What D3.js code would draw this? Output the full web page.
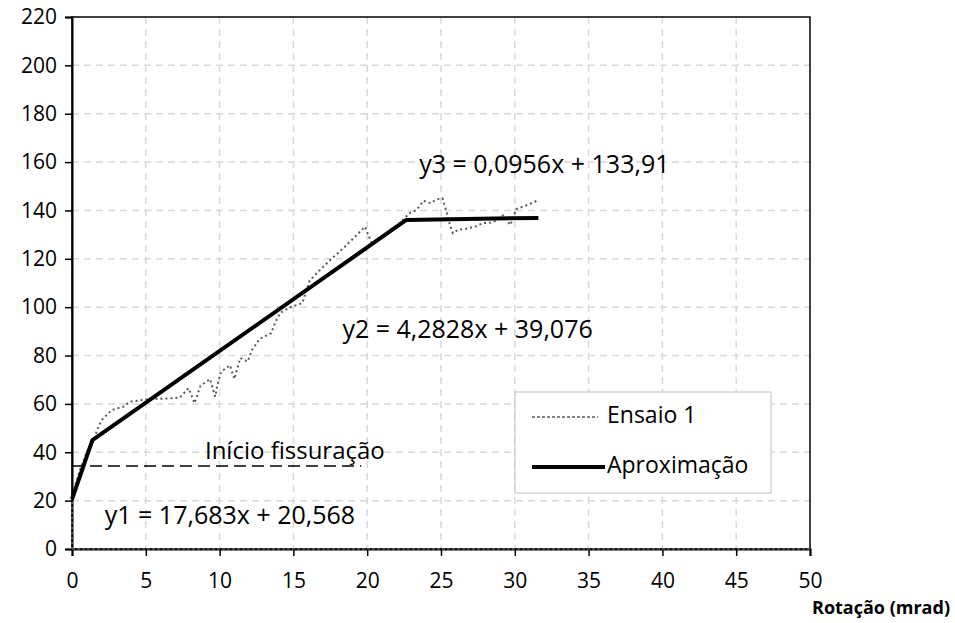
<!DOCTYPE html>
<html>
<head>
<meta charset="utf-8">
<script src="https://cdn.jsdelivr.net/npm/d3@7"></script>
<style>
  body { margin: 0; background: #fff; }
  text { font-family: "Open Sans", sans-serif; fill: #000; }
</style>
</head>
<body>
<svg width="955" height="623"></svg>
<script>
// Ensaio 1 (rotation mrad, load)
var ensaioX = [0, 0, 0.1, 0.5, 1.0, 1.5, 1.67, 2.0, 2.7, 3.46, 3.93, 5.06, 6.64, 7.3, 7.9, 8.3, 8.7, 9.35, 9.7, 9.9, 10.1, 10.7, 11.0, 11.4, 11.9, 12.2, 12.7, 13.5, 13.75, 14.1, 14.8, 15.6, 16.1, 16.8, 17.5, 18.4, 19.3, 19.85, 20.3, 21.3, 22.2, 22.9, 23.35, 23.8, 24.3, 24.7, 25.1, 25.4, 25.6, 25.8, 26.15, 26.6, 27.3, 27.85, 28.5, 29.2, 29.7, 30.1, 30.7, 31.2, 31.5];
var ensaioY = [0, 18, 24, 32, 40, 45, 48.8, 53.3, 57.5, 58.8, 60.9, 61.9, 62.3, 62.6, 66.5, 60.3, 67.4, 70.3, 63, 69.2, 73.3, 76, 70.3, 79, 77.5, 82.3, 86.8, 89.3, 93.5, 97.6, 100, 101.7, 111, 115.4, 119.5, 124.5, 129.9, 133.3, 126.5, 130.7, 134.8, 139, 140.2, 144, 143, 144.6, 145, 139, 134, 130.6, 132, 132.3, 133.3, 134.8, 135, 138, 134, 140.6, 141.9, 143.2, 144];

// Aproximação (trilinear)
var aproxX = [0, 1.381, 22.65, 31.6];
var aproxY = [20.568, 44.99, 136.07, 136.93];

var fissX = [0, 19.6];
var fissY = [34.3, 34.3];

var xTicks = [0, 5, 10, 15, 20, 25, 30, 35, 40, 45, 50];
var yTicks = [0, 20, 40, 60, 80, 100, 120, 140, 160, 180, 200, 220];

var labels = [
  {text: "y3 = 0,0956x + 133,91", x: 32.0, y: 158.4, size: 25},
  {text: "y2 = 4,2828x + 39,076", x: 26.8, y: 90.2, size: 25},
  {text: "y1 = 17,683x + 20,568", x: 10.7, y: 13.2, size: 25},
  {text: "Início fissuração", x: 15.1, y: 39.7, size: 24}
];

var svg = d3.select("svg");
var pL = 72, pR = 810, pT = 17, pB = 549;

var x = d3.scaleLinear().domain([0, 50]).range([pL, pR]);
var y = d3.scaleLinear().domain([0, 220]).range([pB, pT]);

// grid
svg.append("g").selectAll("line").data(yTicks.slice(1, -1)).enter().append("line")
    .attr("x1", pL).attr("x2", pR)
    .attr("y1", function(d) { return y(d); }).attr("y2", function(d) { return y(d); })
    .attr("stroke", "#d9d9d9").attr("stroke-width", 1.5).attr("stroke-dasharray", "7,5");
svg.append("g").selectAll("line").data(xTicks.slice(1, -1)).enter().append("line")
    .attr("y1", pT).attr("y2", pB)
    .attr("x1", function(d) { return x(d); }).attr("x2", function(d) { return x(d); })
    .attr("stroke", "#d9d9d9").attr("stroke-width", 1.5).attr("stroke-dasharray", "7,5");

// frame
svg.append("rect").attr("x", pL).attr("y", pT)
    .attr("width", pR - pL).attr("height", pB - pT)
    .attr("fill", "none").attr("stroke", "#000").attr("stroke-width", 1.5);

// axes
var yAxis = svg.append("g").attr("transform", "translate(" + pL + ",0)")
    .call(d3.axisLeft(y).tickValues(yTicks).tickSize(7).tickPadding(8));
var xAxis = svg.append("g").attr("transform", "translate(0," + pB + ")")
    .call(d3.axisBottom(x).tickValues(xTicks).tickSize(7).tickPadding(17));
[xAxis, yAxis].forEach(function(a) {
  a.select(".domain").attr("stroke", "#000").attr("stroke-width", 2);
  a.selectAll(".tick line").attr("stroke", "#000").attr("stroke-width", 1.5);
  a.selectAll(".tick text").style("font-family", "Open Sans").style("font-size", "21px");
});

// zero line of the test series
svg.append("line").attr("x1", x(0)).attr("x2", x(50)).attr("y1", y(0)).attr("y2", y(0))
    .attr("stroke", "#595959").attr("stroke-width", 1.5).attr("stroke-dasharray", "3,2");

var line = d3.line().x(function(d) { return x(d[0]); }).y(function(d) { return y(d[1]); });

svg.append("path").datum(d3.zip(ensaioX, ensaioY))
    .attr("d", line).attr("fill", "none")
    .attr("stroke", "#595959").attr("stroke-width", 2).attr("stroke-dasharray", "2,3");

svg.append("path").datum(d3.zip(fissX, fissY))
    .attr("d", line).attr("fill", "none")
    .attr("stroke", "#000").attr("stroke-width", 1.5).attr("stroke-dasharray", "12,6");

svg.append("path").datum(d3.zip(aproxX, aproxY))
    .attr("d", line).attr("fill", "none")
    .attr("stroke", "#000").attr("stroke-width", 4).attr("stroke-linejoin", "round");

svg.append("g").selectAll("text").data(labels).enter().append("text")
    .attr("x", function(d) { return x(d.x); })
    .attr("y", function(d) { return y(d.y); })
    .attr("text-anchor", "middle").attr("dominant-baseline", "middle")
    .style("font-size", function(d) { return d.size + "px"; })
    .text(function(d) { return d.text; });

// legend
var lg = svg.append("g");
lg.append("rect").attr("x", 515).attr("y", 392).attr("width", 256).attr("height", 101)
    .attr("fill", "#fff").attr("stroke", "#bfbfbf").attr("stroke-width", 1);
lg.append("line").attr("x1", 532).attr("x2", 598).attr("y1", 417).attr("y2", 417)
    .attr("stroke", "#595959").attr("stroke-width", 1.5).attr("stroke-dasharray", "3,2");
lg.append("line").attr("x1", 532).attr("x2", 605).attr("y1", 467).attr("y2", 467)
    .attr("stroke", "#000").attr("stroke-width", 4);
lg.append("text").attr("x", 607).attr("y", 417).attr("dominant-baseline", "middle")
    .style("font-size", "23px").text("Ensaio 1");
lg.append("text").attr("x", 607).attr("y", 467).attr("dominant-baseline", "middle")
    .style("font-size", "23px").text("Aproximação");

svg.append("text").attr("x", 950).attr("y", 609).attr("text-anchor", "end")
    .attr("dominant-baseline", "middle")
    .style("font-size", "18px").style("font-weight", "bold").text("Rotação (mrad)");
</script>
</body>
</html>
